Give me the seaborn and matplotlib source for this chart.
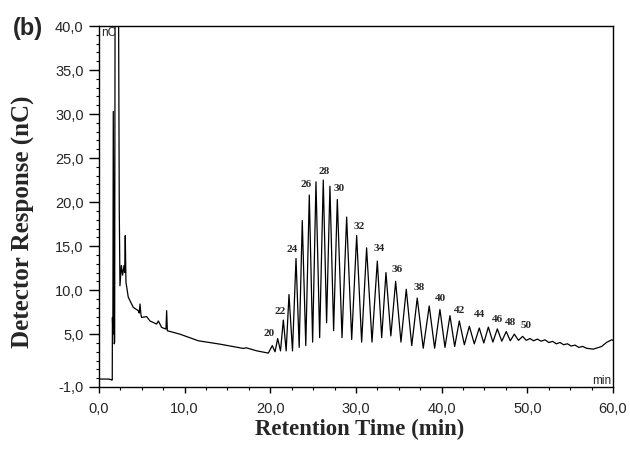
import numpy as np
import pandas as pd
import matplotlib
matplotlib.use("Agg")
import matplotlib.pyplot as plt
import seaborn as sns
from matplotlib.ticker import FixedLocator, MultipleLocator, FuncFormatter

# --- Data (time in min, response in nC) ---
# injection / solvent front and the early baseline drift
early_t = [0.0, 1.2, 1.45, 1.55, 1.57, 1.62, 1.67, 1.78, 1.83, 1.90, 2.22, 2.37,
           2.45, 2.61, 2.76, 2.92, 3.00, 3.07, 3.15, 3.42, 4.00, 4.59, 4.70, 4.79,
           4.90, 4.98, 5.56, 5.95, 6.73, 6.93, 7.31, 7.82, 7.90, 7.98, 9.45, 11.6,
           14.1, 16.85, 17.2, 18.4, 19.77]
early_v = [-0.1, -0.1, -0.2, -0.2, 6.9, 5.0, 30.3, 3.9, 4.1, 60.0, 60.0, 19.1,
           10.5, 12.8, 11.7, 12.8, 12.0, 16.2, 10.9, 9.2, 8.05, 7.67, 7.4, 8.43,
           7.2, 6.9, 7.0, 6.5, 6.15, 6.5, 5.77, 5.58, 7.67, 5.39, 5.0, 4.25,
           3.87, 3.38, 3.45, 3.11, 2.85]

# oligomer peak maxima
peak_t = [20.23, 20.86, 21.52, 22.18, 23.00, 23.73, 24.55, 25.33, 26.18, 26.96,
          27.82, 28.91, 30.08, 31.24, 32.49, 33.50, 34.63, 35.87, 37.15, 38.55,
          39.80, 40.97, 42.06, 43.23, 44.39, 45.45, 46.50, 47.54, 48.48, 49.45,
          50.31, 51.17, 52.06, 52.96, 53.81, 54.67, 55.56, 56.46]
peak_v = [3.7, 4.5, 6.6, 9.5, 13.6, 17.9, 20.8, 22.3, 22.5, 21.8,
          20.3, 18.3, 16.2, 14.8, 13.3, 12.0, 11.0, 10.1, 9.1, 8.2,
          7.8, 7.1, 6.5, 5.9, 5.7, 5.8, 5.6, 5.3, 5.0, 4.75,
          4.5, 4.44, 4.36, 4.18, 4.06, 3.91, 3.76, 3.61]

# minima between the peaks
valley_t = [20.55, 21.19, 21.85, 22.59, 23.37, 24.14, 24.94, 25.76, 26.57, 27.39,
            28.37, 29.50, 30.66, 31.87, 33.00, 34.07, 35.25, 36.51, 37.85, 39.18,
            40.39, 41.52, 42.65, 43.81, 44.92, 45.98, 47.02, 48.01, 48.97, 49.88,
            50.74, 51.62, 52.51, 53.39, 54.24, 55.12, 56.01, 56.90]
valley_v = [3.0, 3.1, 3.1, 3.1, 3.5, 3.7, 4.1, 4.6, 6.3, 5.4,
            4.6, 4.4, 4.1, 4.1, 4.6, 4.8, 4.1, 3.7, 3.4, 3.4,
            3.5, 3.6, 3.8, 3.9, 4.0, 4.1, 4.2, 4.25, 4.3, 4.3,
            4.25, 4.2, 4.05, 3.9, 3.8, 3.65, 3.5, 3.4]

# end of the run
tail_t = [57.7, 58.67, 59.26, 59.85, 60.0]
tail_v = [3.3, 3.6, 4.07, 4.36, 4.3]

# peak numbering and label anchor points
dp_labels = [20, 22, 24, 26, 28, 30, 32, 34, 36, 38, 40, 42, 44, 46, 48, 50]
dp_label_t = [19.84, 21.13, 22.57, 24.12, 26.3, 28.0, 30.35, 32.68, 34.75, 37.35,
              39.8, 42.06, 44.47, 46.5, 48.05, 49.84]
dp_label_v = [5.09, 7.6, 14.6, 22.0, 23.5, 21.6, 17.2, 14.7, 12.4, 10.3,
              9.1, 7.67, 7.18, 6.72, 6.34, 6.04]

df = pd.DataFrame({
    "t": early_t + peak_t + valley_t + tail_t,
    "v": early_v + peak_v + valley_v + tail_v,
}).sort_values("t", kind="stable").reset_index(drop=True)

# --- Plot ---
sns.set_style("ticks")
plt.rcParams["font.family"] = ["Liberation Sans", "DejaVu Sans"]

fig = plt.figure(figsize=(6.3, 4.53), dpi=100)
ax = fig.add_axes([0.1571, 0.1457, 0.8159, 0.7969])

sns.lineplot(data=df, x="t", y="v", ax=ax, color="black", linewidth=0.9,
             estimator=None, sort=False)

ax.set_xlim(0, 60)
ax.set_ylim(-1, 40)

ax.xaxis.set_major_locator(MultipleLocator(10))
ax.xaxis.set_minor_locator(MultipleLocator(2.5))
ax.yaxis.set_major_locator(FixedLocator([-1, 5, 10, 15, 20, 25, 30, 35, 40]))
ax.yaxis.set_minor_locator(MultipleLocator(1))
comma = FuncFormatter(lambda x, pos: f"{x:.1f}".replace(".", ","))
ax.xaxis.set_major_formatter(comma)
ax.yaxis.set_major_formatter(comma)

ax.tick_params(axis="both", which="major", labelsize=10.5, color="black", width=1)
ax.tick_params(axis="y", which="major", length=7, pad=4)
ax.tick_params(axis="x", which="major", length=4.5, pad=6)
ax.tick_params(axis="both", which="minor", length=2.5, width=0.8, color="black")

for s in ax.spines.values():
    s.set_visible(True)
    s.set_color("black")
    s.set_linewidth(1.0)

ax.set_xlabel("Retention Time (min)", fontsize=16.4, fontweight="bold",
              family=["Liberation Serif"])
ax.set_ylabel("Detector Response (nC)", fontsize=18, fontweight="bold",
              family=["Liberation Serif"])
ax.xaxis.set_label_coords(0.508, -0.088)
ax.yaxis.set_label_coords(-0.124, 0.457)

for lab, lt, lv in zip(dp_labels, dp_label_t, dp_label_v):
    ax.text(lt, lv, str(lab), ha="center", va="center", fontsize=8,
            fontweight="bold", family=["Liberation Serif"])

ax.text(0.25, 39.2, "nC", ha="left", va="center", fontsize=8.5)
ax.text(59.8, -0.3, "min", ha="right", va="center", fontsize=8.5)
fig.text(0.02, 0.936, "(b)", ha="left", va="center", fontsize=17, fontweight="bold")

fig.savefig("out.png", dpi=100)
